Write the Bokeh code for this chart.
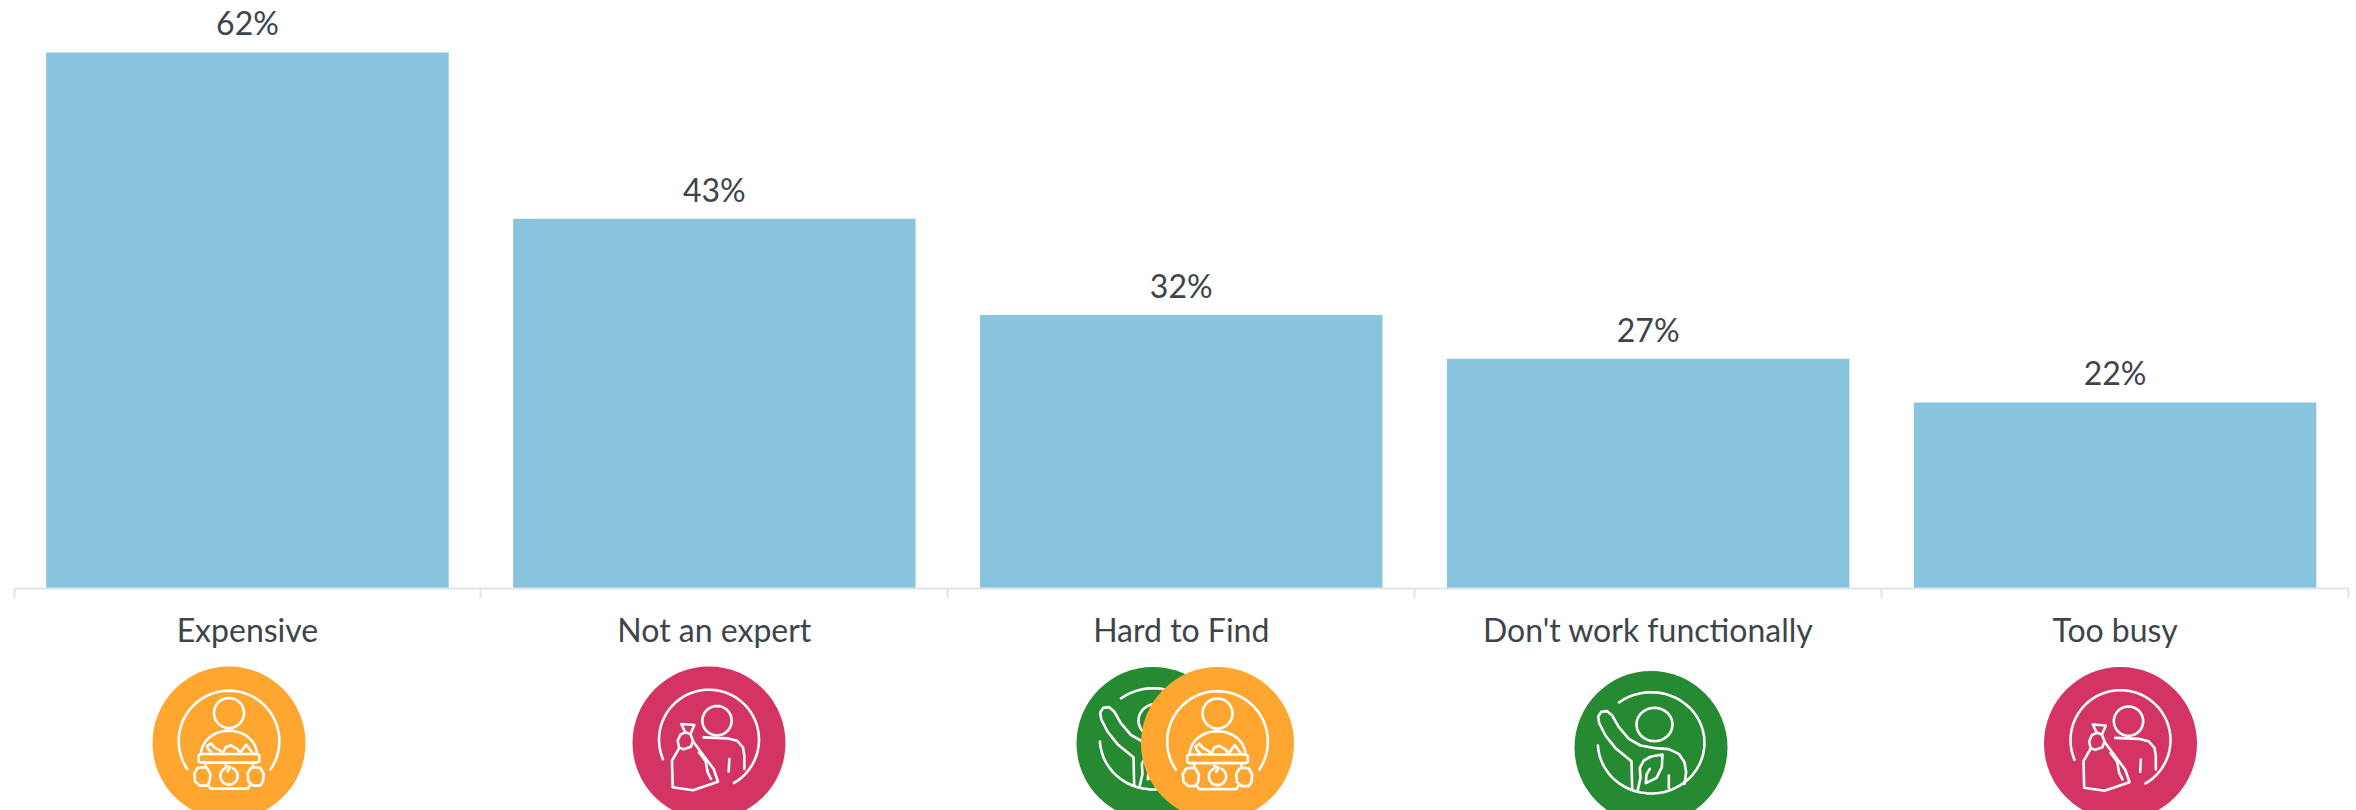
import math

from bokeh.embed import file_html
from bokeh.layouts import column
from bokeh.models import ColumnDataSource, FixedTicker, LinearAxis, Range1d
from bokeh.plotting import figure
from bokeh.resources import INLINE
from bokeh.core.properties import value

# Survey results: share of respondents naming each barrier
categories = ["Expensive", "Not an expert", "Hard to Find", "Don't work functionally", "Too busy"]
shares = [62, 43, 32, 27, 22]

BAR_COLOR = "#88C4DE"
TEXT_COLOR = "#3D444B"
AXIS_COLOR = "#DFE5EA"
ORANGE = "#FFA630"
CRIMSON = "#D33461"
GREEN = "#258A31"
FONT = "Lato"

WIDTH = 2356
CHART_H = 651
FRAME_H = 588
PX_PER_UNIT = 8.75
Y_START = 0.74
PITCH = 466.9

centres = [i + 0.5 for i in range(len(categories))]

p = figure(
    width=WIDTH, height=CHART_H, output_backend="svg", toolbar_location=None,
    x_range=Range1d(-13.5 / PITCH, 5 + 8 / PITCH),
    y_range=Range1d(Y_START, Y_START + FRAME_H / PX_PER_UNIT),
    frame_height=FRAME_H, frame_width=WIDTH,
    min_border=0, min_border_left=0, min_border_right=0, min_border_top=0, min_border_bottom=0,
    x_axis_type=None, y_axis_type=None, outline_line_color=None,
)
p.grid.visible = False

src = ColumnDataSource(dict(
    x=centres, share=shares, label=[f"{s}%" for s in shares],
))
p.vbar(x="x", top="share", width=0.862, bottom=0, source=src, fill_color=BAR_COLOR, line_color=None)
p.text(x="x", y="share", text="label", source=src, text_align="center", text_baseline="bottom",
       y_offset=-10, text_font=value(FONT), text_font_size="32px", text_color=TEXT_COLOR)

# Majors carry the category names at bar centres, minors mark the category boundaries
axis = LinearAxis(
    ticker=FixedTicker(ticks=centres, minor_ticks=list(range(len(categories) + 1))),
    bounds=(0, len(categories)),
    major_label_overrides={c: name for c, name in zip(centres, categories)},
    axis_line_color=AXIS_COLOR, axis_line_width=2,
    major_tick_line_color=None, major_tick_in=0, major_tick_out=0,
    minor_tick_line_color=AXIS_COLOR, minor_tick_line_width=2, minor_tick_in=0, minor_tick_out=10,
    major_label_standoff=11,
    major_label_text_font=FONT, major_label_text_font_size="32px", major_label_text_color=TEXT_COLOR,
)
p.add_layout(axis, "below")

# Badge strip underneath the axis, laid out in pixels
BADGE_TOP = CHART_H
q = figure(
    width=WIDTH, height=810 - CHART_H, output_backend="svg", toolbar_location=None,
    x_range=Range1d(0, WIDTH), y_range=Range1d(810, BADGE_TOP),
    min_border=0, x_axis_type=None, y_axis_type=None, outline_line_color=None,
)
q.grid.visible = False


def arc(cx, cy, rx, ry, a0, a1, n=48):
    """Points along an ellipse; angles in degrees, screen orientation (y down)."""
    return [(cx + rx * math.cos(math.radians(a0 + (a1 - a0) * k / n)),
             cy + ry * math.sin(math.radians(a0 + (a1 - a0) * k / n))) for k in range(n + 1)]


def scale_pts(pts, ox, oy):
    return [((x - ox) / 3, (y - oy) / 3) for x, y in pts]


def basket_icon():
    o = (266, 277)
    paths = [
        arc(266, 271, 151, 151, 146, 394),
        arc(266, 187, 45, 45, 0, 360),
        arc(266, 312, 84, 72, 182, 358, 24),
        [(182, 310), (350, 310), (357, 314), (357, 332), (350, 336), (182, 336), (175, 332), (175, 314), (182, 310)],
        [(196, 336), (196, 345)],
        [(338, 336), (338, 345)],
        [(205, 405), (210, 414), (322, 414), (328, 405)],
        [(186, 350), (200, 352), (210, 370), (208, 392), (200, 405), (178, 405), (164, 392), (162, 368), (172, 352), (186, 350)],
        [(346, 350), (360, 352), (370, 370), (368, 392), (360, 405), (338, 405), (324, 392), (322, 368), (332, 352), (346, 350)],
        arc(266, 376, 26, 26, -60, 250, 32),
        [(256, 344), (270, 350), (262, 362)],
        [(204, 296), (200, 286), (212, 278), (222, 290), (240, 300), (246, 308)],
        [(204, 296), (212, 304), (214, 310)],
        [(248, 308), (256, 290), (272, 284), (292, 296), (298, 308)],
        [(298, 308), (318, 282), (336, 306)],
    ]
    return [scale_pts(pts, *o) for pts in paths]


def bag_icon():
    o = (326, 307)
    paths = [
        arc(326, 297, 150, 150, 157, 420),
        arc(350, 240, 44, 44, 0, 360),
        [(310, 290), (380, 293), (410, 300), (428, 320), (432, 345), (432, 385)],
        [(387, 355), (385, 392)],
        [(255, 275), (270, 280), (278, 300), (272, 318), (250, 326), (236, 320), (232, 300), (240, 282), (255, 275)],
        [(255, 275), (243, 250), (282, 253), (272, 276)],
        [(235, 325), (215, 360), (217, 440), (278, 449), (353, 423), (340, 385), (310, 345), (280, 305)],
        [(296, 335), (316, 362), (322, 395), (332, 415)],
    ]
    return [scale_pts(pts, *o) for pts in paths]


def raised_arm_icon():
    o = (271.5, 291)
    paths = [
        arc(272, 277, 160, 152, 233, 537),
        arc(282, 222, 54, 50, 0, 360),
        [(215, 415), (213, 332), (165, 293), (135, 255), (116, 218), (113, 198), (122, 184), (140, 182),
         (155, 195), (175, 230), (205, 265), (240, 285), (285, 293), (325, 296), (355, 310), (372, 335),
         (377, 365), (372, 400)],
        [(232, 418), (240, 382), (238, 352), (250, 330), (272, 318), (306, 312), (304, 350), (288, 382),
         (256, 398), (258, 372), (268, 355)],
        [(325, 375), (325, 412)],
    ]
    return [scale_pts(pts, *o) for pts in paths]


# Painted in order, so the orange badge overlaps the green one under "Hard to Find"
badges = [
    (228.5, 742.5, ORANGE, basket_icon),
    (708.5, 742.5, CRIMSON, bag_icon),
    (1152.5, 743.0, GREEN, raised_arm_icon),
    (1217.0, 743.0, ORANGE, basket_icon),
    (1650.5, 747.0, GREEN, raised_arm_icon),
    (2120.0, 743.0, CRIMSON, bag_icon),
]
for cx, cy, colour, icon in badges:
    q.circle(x=[cx], y=[cy], radius=76.5, fill_color=colour, line_color=None)
    paths = icon()
    q.multi_line(xs=[[cx + a for a, _ in pts] for pts in paths],
                 ys=[[cy + b for _, b in pts] for pts in paths],
                 line_color="white", line_width=2.6, line_cap="round", line_join="round")

layout = column(p, q, spacing=0)
open("out.html", "w").write(file_html(layout, INLINE))
